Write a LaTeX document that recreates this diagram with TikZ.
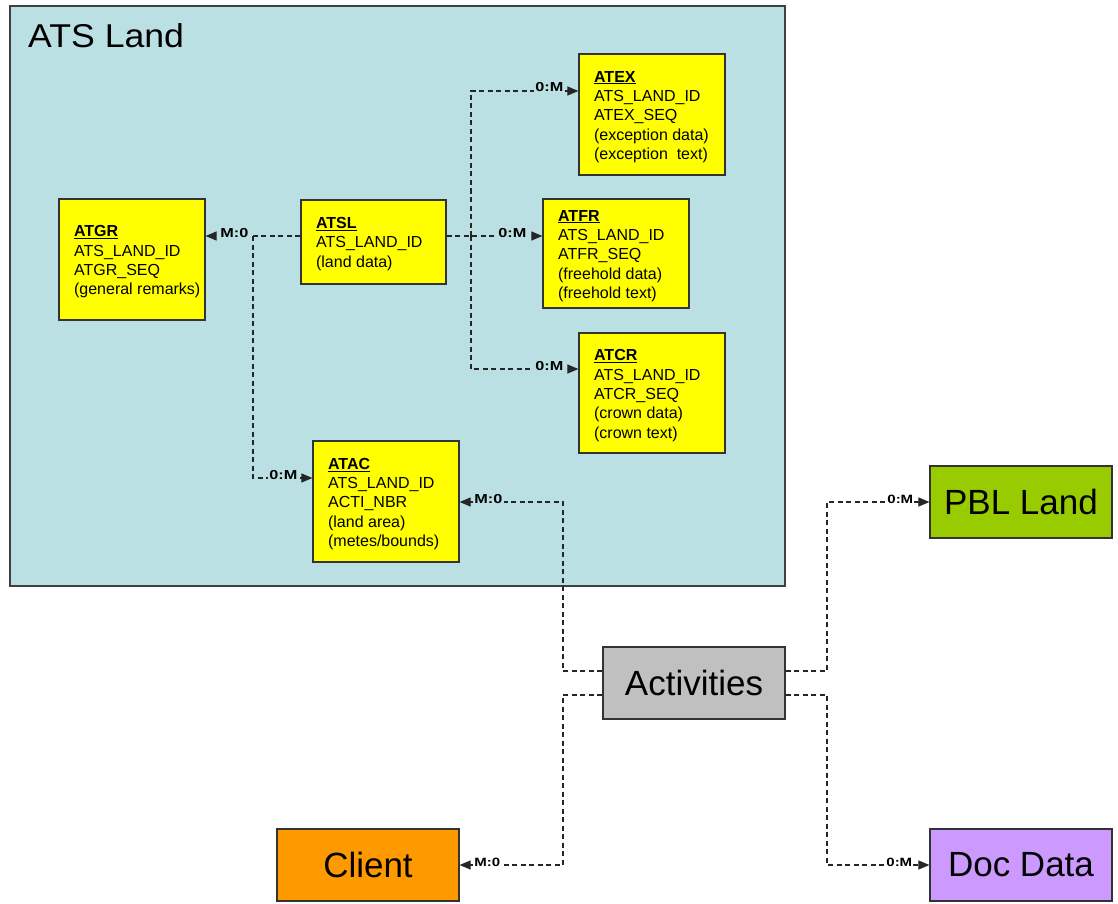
\documentclass[tikz,border=0pt]{standalone}
\usepackage{fontspec}
\setmainfont{Liberation Sans}
\usetikzlibrary{arrows.meta}
\definecolor{atsbg}{HTML}{BBE0E3}
\definecolor{entyellow}{HTML}{FFFF00}
\definecolor{pblgreen}{HTML}{99CC00}
\definecolor{actgray}{HTML}{C0C0C0}
\definecolor{clorange}{HTML}{FF9900}
\definecolor{docpurple}{HTML}{CC99FF}
\newcommand{\cardtext}[1]{\scalebox{1.25}[1]{#1}}
\begin{document}
\begin{tikzpicture}[x=1pt,y=-1pt,
  conn/.style={draw=black!85, line width=1.1pt, dash pattern=on 5pt off 3.5pt},
  arr/.style={-{Triangle[length=11pt,width=9pt]}},
  ebox/.style={draw=black!80, line width=1.2pt, fill=entyellow, inner sep=0pt},
  etext/.style={font=\fontsize{16}{19.3}\selectfont, align=left, inner sep=0pt, anchor=west},
  lab/.style={font=\fontsize{13}{13}\selectfont\bfseries, inner sep=1.2pt, anchor=base west, fill=atsbg},
  slab/.style={lab, font=\fontsize{12}{12}\selectfont\bfseries, fill=white},
  bigbox/.style={draw=black!80, line width=1.2pt, minimum width=182pt, minimum height=72pt, inner sep=0pt, font=\fontsize{35}{35}\selectfont},
]
\useasboundingbox (0,0) rectangle (1118,904);
\fill[white] (0,0) rectangle (1118,904);
\node[draw=black!75, line width=1.3pt, fill=atsbg, minimum width=775pt, minimum height=580pt, inner sep=0pt] (ats) at (397.5,296) {};
\node[font=\fontsize{33}{33}\selectfont, anchor=base west, inner sep=0pt] (atstitle) at (28,47.5) {\scalebox{1.08}[1]{ATS Land}};

% entity boxes
\node[ebox, minimum width=146pt, minimum height=121pt] (atgr) at (132,259.5) {};
\node[etext] (atgrT) at ([xshift=15.5pt,yshift=-2.5pt]atgr.west) {\underline{\textbf{ATGR}}\\ATS\_LAND\_ID\\ATGR\_SEQ\\(general remarks)};
\node[ebox, minimum width=145pt, minimum height=84pt] (atsl) at (373.5,242) {};
\node[etext] (atslT) at ([xshift=15.5pt,yshift=-2pt]atsl.west) {\underline{\textbf{ATSL}}\\ATS\_LAND\_ID\\(land data)};
\node[ebox, minimum width=146pt, minimum height=121pt] (atex) at (652,114.5) {};
\node[etext] (atexT) at ([xshift=15.5pt,yshift=-2.5pt]atex.west) {\underline{\textbf{ATEX}}\\ATS\_LAND\_ID\\ATEX\_SEQ\\(exception data)\\(exception\ \ text)};
\node[ebox, minimum width=146pt, minimum height=109pt] (atfr) at (616,253.5) {};
\node[etext] (atfrT) at ([xshift=15.5pt,yshift=-2.5pt]atfr.west) {\underline{\textbf{ATFR}}\\ATS\_LAND\_ID\\ATFR\_SEQ\\(freehold data)\\(freehold text)};
\node[ebox, minimum width=146pt, minimum height=120pt] (atcr) at (652,393) {};
\node[etext] (atcrT) at ([xshift=15.5pt,yshift=-2.5pt]atcr.west) {\underline{\textbf{ATCR}}\\ATS\_LAND\_ID\\ATCR\_SEQ\\(crown data)\\(crown text)};
\node[ebox, minimum width=146pt, minimum height=121pt] (atac) at (386,501.5) {};
\node[etext] (atacT) at ([xshift=15.5pt,yshift=-2.5pt]atac.west) {\underline{\textbf{ATAC}}\\ATS\_LAND\_ID\\ACTI\_NBR\\(land area)\\(metes/bounds)};

% big boxes
\node[bigbox, fill=pblgreen] (pbl) at (1021,502) {PBL Land};
\node[bigbox, fill=actgray] (act) at (694,683) {Activities};
\node[bigbox, fill=clorange] (client) at (368,865) {Client};
\node[bigbox, fill=docpurple] (doc) at (1021,865) {Doc Data};

% junctions
\coordinate (jL) at (253,236);
\coordinate (jR) at (471,236);
\coordinate (yEX) at (0,91);
\coordinate (yCR) at (0,369);
\coordinate (yAC) at (0,478);
\coordinate (jA) at (563,502);
\coordinate (jP) at (827,502);
\coordinate (jC) at (563,865);
\coordinate (jD) at (827,865);
\coordinate (yA1) at (0,671);
\coordinate (yA2) at (0,695);

% connectors
\draw[conn,arr] (atsl.west |- jL) -- (atgr.east |- jL);
\draw[conn,arr] (jL) |- (atac.west |- yAC);
\draw[conn,arr] (atsl.east |- jR) -- (atfr.west |- jR);
\draw[conn,arr] (jR) |- (atex.west |- yEX);
\draw[conn,arr] (jR) |- (atcr.west |- yCR);
\draw[conn,arr] (act.west |- yA1) -| (jA) -- (atac.east |- jA);
\draw[conn,arr] (act.east |- yA1) -| (jP) -- (pbl.west);
\draw[conn,arr] (act.west |- yA2) -| (jC) -- (client.east);
\draw[conn,arr] (act.east |- yA2) -| (jD) -- (doc.west);

% labels
\node[lab] (l1) at (219,237) {\cardtext{M:0}};
\node[lab] (l2) at (268,479) {\cardtext{0:M}};
\node[lab] (l3) at (497,237) {\cardtext{0:M}};
\node[lab] (l4) at (534,92) {\cardtext{0:M}};
\node[lab] (l5) at (534,370) {\cardtext{0:M}};
\node[lab] (l6) at (473,503) {\cardtext{M:0}};
\node[slab] (l7) at (886,503) {\cardtext{0:M}};
\node[slab] (l8) at (473,866) {\cardtext{M:0}};
\node[slab] (l9) at (885,866) {\cardtext{0:M}};
\end{tikzpicture}
\end{document}
